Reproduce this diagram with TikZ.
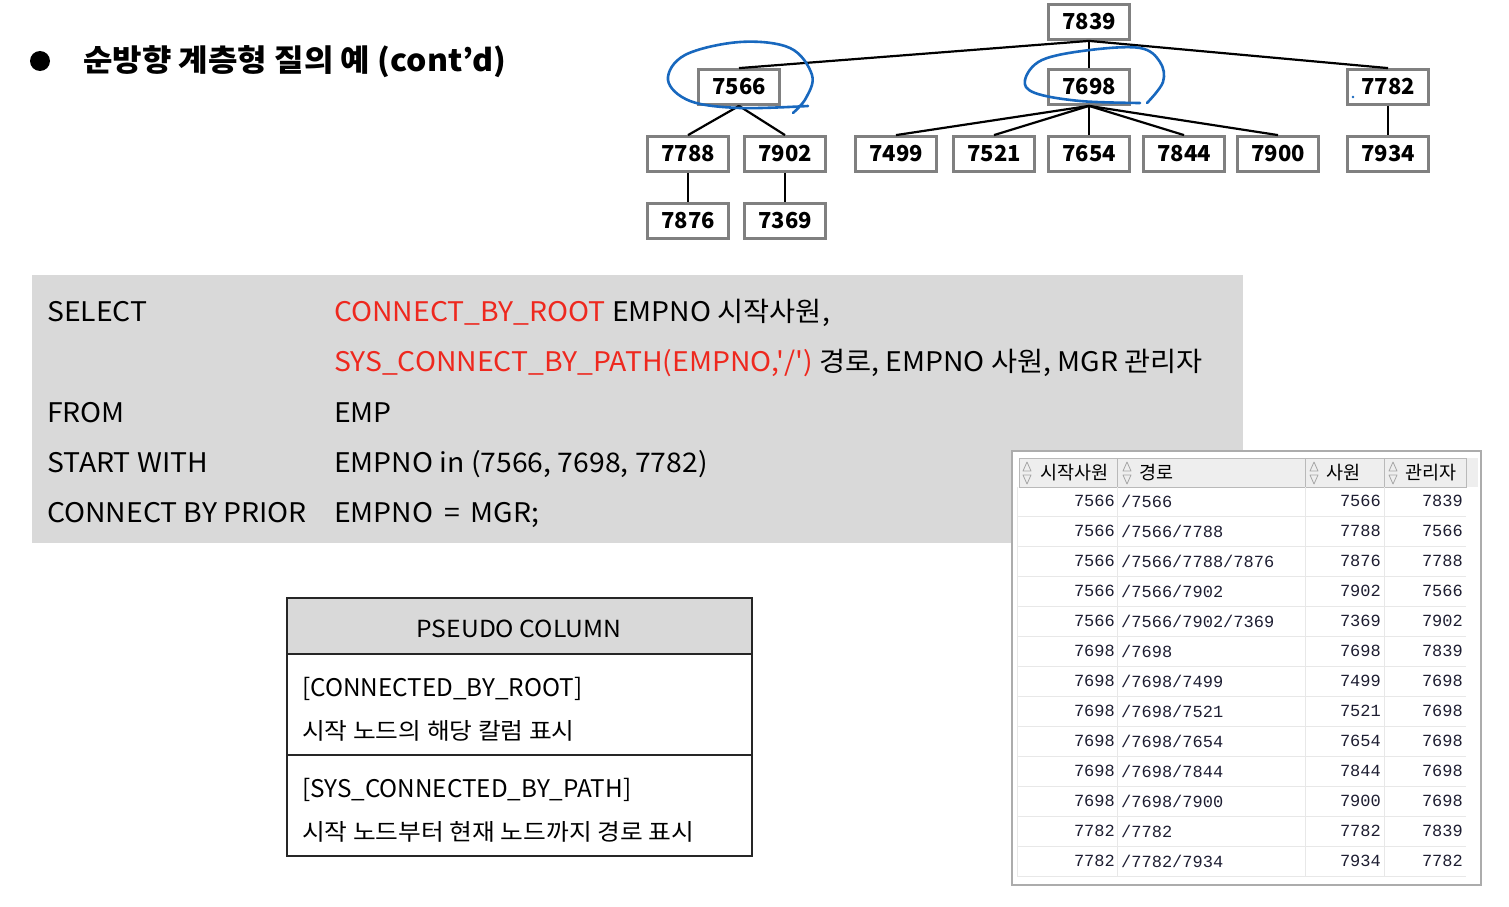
\documentclass[tikz,border=0pt]{standalone}
\usepackage{fontspec}
\newfontfamily\krfont{Noto Sans CJK KR}
\newfontfamily\krwide{Noto Sans CJK KR}[FakeStretch=1.05]
\newfontfamily\krwider{Noto Sans CJK KR}[FakeStretch=1.075]
\newfontfamily\cellfont{Liberation Mono}
\definecolor{sqlred}{RGB}{238,40,30}
\definecolor{penblue}{RGB}{24,104,190}
\definecolor{boxgray}{RGB}{128,128,128}
\definecolor{panelgray}{RGB}{217,217,217}
\definecolor{celltext}{RGB}{30,30,50}
\definecolor{gridgray}{RGB}{232,232,232}
\definecolor{headfill}{RGB}{238,238,238}
\newcommand\resrow[5]{%
  \node[cell, anchor=east] (r#1a) at (1115,{501+30*#1}) {#2};
  \node[cell, anchor=west] (r#1b) at (1121,{501+30*#1}) {#3};
  \node[cell, anchor=east] (r#1c) at (1381,{501+30*#1}) {#4};
  \node[cell, anchor=east] (r#1d) at (1463,{501+30*#1}) {#5};
}
\newcommand\sorticon[1]{%
  \draw[gray!70, line width=0.8pt, line join=round] (#1-4,471) -- (#1+4,471) -- (#1,462) -- cycle;
  \draw[gray!70, line width=0.8pt, line join=round] (#1-4,475) -- (#1+4,475) -- (#1,484) -- cycle;
}
\begin{document}
\begin{tikzpicture}[x=1pt,y=-1pt,
  tnode/.style={draw=boxgray, line width=2.8pt, fill=white, minimum width=81pt, minimum height=35pt, inner sep=0pt, font=\bfseries\fontsize{22}{24}\selectfont},
  tline/.style={line width=2.2pt, draw=black},
  pen/.style={draw=penblue, line width=2.6pt, line cap=round, line join=round},
  sqltext/.style={anchor=base west, inner sep=0pt, font=\krwide\fontsize{27}{30}\selectfont},
  pctext/.style={anchor=base west, inner sep=0pt, font=\krfont\fontsize{24.3}{28}\selectfont},
  pcsub/.style={anchor=base west, inner sep=0pt, font=\krwider\fontsize{23}{28}\selectfont},
  cell/.style={inner sep=0pt, text=celltext, font=\cellfont\fontsize{17}{20}\selectfont},
  headlabel/.style={anchor=west, inner sep=0pt, font=\fontsize{18.5}{20}\selectfont}]
\krfont
\useasboundingbox (0,0) rectangle (1509,907);

% title
\node[circle, fill=black, minimum size=20pt, inner sep=0pt] (bullet) at (40,61) {};
\node[anchor=west, inner sep=0pt, font=\krwide\bfseries\fontsize{30.5}{34}\selectfont] (title) at (83,62) {순방향 계층형 질의 예 (cont’d)};

% tree
\node[tnode] (n7839) at (1089,22) {7839};
\node[tnode] (n7566) at (739,87) {7566};
\node[tnode] (n7698) at (1089,87) {7698};
\node[tnode] (n7782) at (1388,87) {7782};
\node[tnode] (n7788) at (688,154) {7788};
\node[tnode] (n7902) at (785,154) {7902};
\node[tnode] (n7499) at (896,154) {7499};
\node[tnode] (n7521) at (994,154) {7521};
\node[tnode] (n7654) at (1089,154) {7654};
\node[tnode] (n7844) at (1184,154) {7844};
\node[tnode] (n7900) at (1278,154) {7900};
\node[tnode] (n7934) at (1388,154) {7934};
\node[tnode] (n7876) at (688,221) {7876};
\node[tnode] (n7369) at (785,221) {7369};

\draw[tline] (n7839.south) -- (n7566.north);
\draw[tline] (n7839.south) -- (n7698.north);
\draw[tline] (n7839.south) -- (n7782.north);
\draw[tline] (n7566.south) -- (n7788.north);
\draw[tline] (n7566.south) -- (n7902.north);
\foreach \c in {7499,7521,7654,7844,7900} \draw[tline] (n7698.south) -- (n\c.north);
\draw[tline] (n7782.south) -- (n7934.north);
\draw[tline] (n7788.south) -- (n7876.north);
\draw[tline] (n7902.south) -- (n7369.north);

% hand-drawn marks
\draw[pen] plot[smooth, tension=0.6] coordinates {(808,106) (740,108) (690,101) (668,80) (685,55) (740,42) (790,48) (812,75) (806,98) (793,113)};
\draw[pen] plot[smooth, tension=0.6] coordinates {(1140,103) (1080,101) (1035,93) (1025,80) (1042,60) (1090,50) (1140,48) (1160,62) (1163,82) (1147,103)};
\fill[penblue] (1353,97) circle (1.4pt);

% SQL panel
\fill[panelgray] (32,275) rectangle (1243,543);
\node[sqltext] (s1) at (47,321) {SELECT};
\node[sqltext] (s1b) at (334,321) {\textcolor{sqlred}{CONNECT\_BY\_ROOT} EMPNO 시작사원,};
\node[sqltext] (s2b) at (334,371) {\textcolor{sqlred}{SYS\_CONNECT\_BY\_PATH(EMPNO,'/')} 경로, EMPNO 사원, MGR 관리자};
\node[sqltext] (s3) at (47,422) {FROM};
\node[sqltext] (s3b) at (334,422) {EMP};
\node[sqltext] (s4) at (47,472) {START WITH};
\node[sqltext] (s4b) at (334,472) {EMPNO in (7566, 7698, 7782)};
\node[sqltext] (s5) at (47,522) {CONNECT BY PRIOR};
\node[sqltext] (s5b) at (334,522) {EMPNO \,=\, MGR;};

% pseudo column box
\fill[panelgray] (287,598) rectangle (752,654);
\draw[line width=2pt, draw=black!85] (287,598) rectangle (752,856);
\draw[line width=2pt, draw=black!85] (287,654) -- (752,654);
\draw[line width=2pt, draw=black!85] (287,755) -- (752,755);
\node[inner sep=0pt, font=\krwide\fontsize{23.5}{26}\selectfont] (pchead) at (519,629) {PSEUDO COLUMN};
\node[pctext] (pc1) at (302,696) {[CONNECTED\_BY\_ROOT]};
\node[pcsub] (pc1d) at (302,739) {시작 노드의 해당 칼럼 표시};
\node[pctext] (pc2) at (302,797) {[SYS\_CONNECTED\_BY\_PATH]};
\node[pcsub] (pc2d) at (302,840) {시작 노드부터 현재 노드까지 경로 표시};

% result table
\filldraw[fill=white, draw=gray!65, line width=2pt] (1012,451) rectangle (1481,885);
\fill[headfill] (1466,458) rectangle (1478,487);
\foreach \l/\r in {1019/1117,1117/1305,1305/1384,1384/1466}
  \filldraw[fill=headfill, draw=gray!55, line width=1pt] (\l,458) rectangle (\r,487);
\foreach \k in {0,...,12} \draw[gridgray, line width=1pt] (1017,{516+30*\k}) -- (1466,{516+30*\k});
\foreach \x in {1117,1305,1384} \draw[gridgray, line width=1pt] (\x,487) -- (\x,876);
\draw[gridgray, line width=1pt] (1017,487) -- (1017,876);
\sorticon{1027}\sorticon{1127}\sorticon{1314}\sorticon{1393}
\node[headlabel] (h1) at (1040,473) {시작사원};
\node[headlabel] (h2) at (1139,473) {경로};
\node[headlabel] (h3) at (1326,473) {사원};
\node[headlabel] (h4) at (1405,473) {관리자};
\resrow{0}{7566}{/7566}{7566}{7839}
\resrow{1}{7566}{/7566/7788}{7788}{7566}
\resrow{2}{7566}{/7566/7788/7876}{7876}{7788}
\resrow{3}{7566}{/7566/7902}{7902}{7566}
\resrow{4}{7566}{/7566/7902/7369}{7369}{7902}
\resrow{5}{7698}{/7698}{7698}{7839}
\resrow{6}{7698}{/7698/7499}{7499}{7698}
\resrow{7}{7698}{/7698/7521}{7521}{7698}
\resrow{8}{7698}{/7698/7654}{7654}{7698}
\resrow{9}{7698}{/7698/7844}{7844}{7698}
\resrow{10}{7698}{/7698/7900}{7900}{7698}
\resrow{11}{7782}{/7782}{7782}{7839}
\resrow{12}{7782}{/7782/7934}{7934}{7782}
\end{tikzpicture}
\end{document}
